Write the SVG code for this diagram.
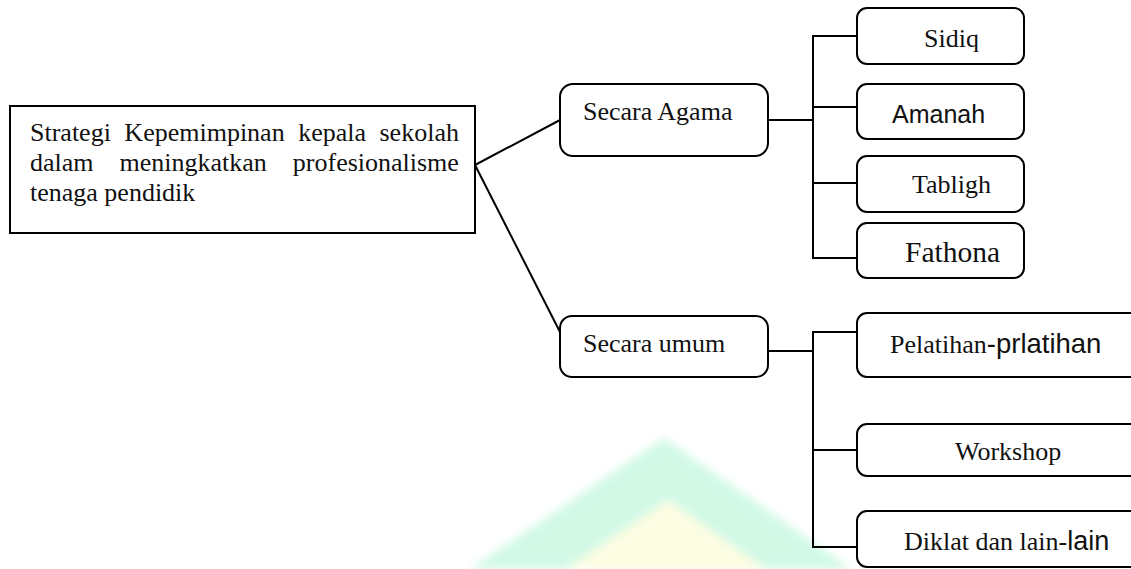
<svg xmlns="http://www.w3.org/2000/svg" width="1131" height="569" viewBox="0 0 1131 569">
<style>
.box{fill:#fff;stroke:#000;stroke-width:2}
.rbox{fill:#fff;stroke:#000;stroke-width:2}
.ln{stroke:#000;stroke-width:2;fill:none}
.t{font-family:"Liberation Serif","Times New Roman",serif;font-size:26px;fill:#111}
.s{font-family:"Liberation Sans",Arial,sans-serif;font-size:25px;fill:#111}
</style>
<defs>
<filter id="blur" x="-10%" y="-10%" width="120%" height="120%"><feGaussianBlur stdDeviation="4"/></filter>
</defs>
<rect width="1131" height="569" fill="#fff"/>
<g id="watermark" filter="url(#blur)">
<polygon points="664,438 852,569 470,569" fill="#d2f9e6"/>
<polygon points="668,500 766,569 566,569" fill="#fcfde2"/>
</g>
<g id="connectors">
<line class="ln" x1="475" y1="165" x2="560" y2="120"/>
<line class="ln" x1="475" y1="165" x2="560" y2="332"/>
<line class="ln" x1="768" y1="120" x2="813" y2="120"/>
<line class="ln" x1="813" y1="36" x2="813" y2="258"/>
<line class="ln" x1="812" y1="36" x2="857" y2="36"/>
<line class="ln" x1="812" y1="107" x2="857" y2="107"/>
<line class="ln" x1="812" y1="183" x2="857" y2="183"/>
<line class="ln" x1="812" y1="258" x2="857" y2="258"/>
<line class="ln" x1="768" y1="351" x2="813" y2="351"/>
<line class="ln" x1="813" y1="332" x2="813" y2="547"/>
<line class="ln" x1="812" y1="332" x2="857" y2="332"/>
<line class="ln" x1="812" y1="450" x2="857" y2="450"/>
<line class="ln" x1="812" y1="547" x2="857" y2="547"/>
</g>
<g id="main">
<rect class="box" x="10" y="106" width="465" height="127"/>
<text class="t" x="30" y="141" word-spacing="7">Strategi Kepemimpinan kepala sekolah</text>
<text class="t" x="30" y="171" word-spacing="19.5">dalam meningkatkan profesionalisme</text>
<text class="t" x="30" y="201">tenaga pendidik</text>
</g>
<g id="agama">
<rect class="rbox" x="560" y="84" width="208" height="72" rx="13"/>
<text class="t" x="583" y="120">Secara Agama</text>
</g>
<g id="umum">
<rect class="rbox" x="560" y="316" width="208" height="61" rx="12"/>
<text class="t" x="583" y="352">Secara umum</text>
</g>
<g id="sidiq">
<rect class="rbox" x="857" y="8" width="167" height="56" rx="10"/>
<text class="t" x="924" y="47">Sidiq</text>
</g>
<g id="amanah">
<rect class="rbox" x="857" y="84" width="167" height="55" rx="10"/>
<text class="s" x="892" y="123">Amanah</text>
</g>
<g id="tabligh">
<rect class="rbox" x="857" y="156" width="167" height="56" rx="10"/>
<text class="t" x="912" y="193">Tabligh</text>
</g>
<g id="fathona">
<rect class="rbox" x="857" y="223" width="167" height="55" rx="10"/>
<text class="t" x="905" y="262" style="font-size:29.5px">Fathona</text>
</g>
<g id="pelatihan">
<rect class="rbox" x="857" y="313" width="290" height="64" rx="10"/>
<text x="890" y="353"><tspan class="t">Pelatihan</tspan><tspan class="s" style="font-size:27.5px">-prlatihan</tspan></text>
</g>
<g id="workshop">
<rect class="rbox" x="857" y="424" width="290" height="52" rx="10"/>
<text class="t" x="955" y="460">Workshop</text>
</g>
<g id="diklat">
<rect class="rbox" x="857" y="511" width="290" height="56" rx="10"/>
<text x="904" y="550"><tspan class="t">Diklat dan lain-</tspan><tspan class="s" style="font-size:27px">lain</tspan></text>
</g>
</svg>
